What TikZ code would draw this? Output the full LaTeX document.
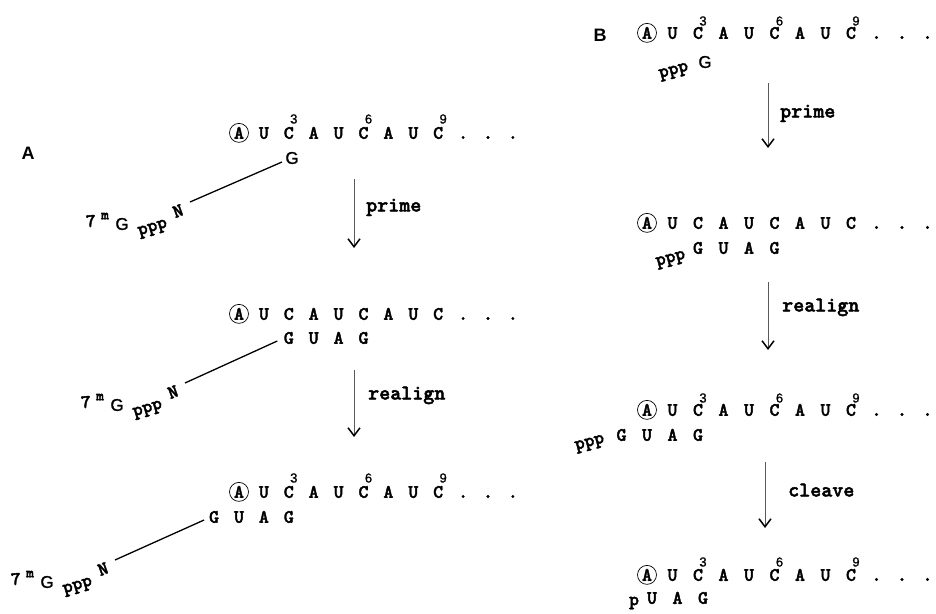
\documentclass[tikz,border=0pt]{standalone}
\usepackage{fontspec}
\newfontfamily\sansf{Liberation Sans}
\newfontfamily\monof{lmmonolt10-bold}[Extension=.otf, FakeBold=2]
\newfontfamily\gsans{Liberation Sans}[FakeBold=1.2]
\usetikzlibrary{arrows.meta}
% row of the template: name, x0, y centre, spacing
\newcommand\seqrow[4]{%
  \foreach \ch [count=\i from 0] in {A,U,C,A,U,C,A,U,C}{%
    \node[seq] (#1-\i) at ({#2+#4*\i},{#3+5.8}) {\ch};}
  \foreach \i in {9,10,11}{%
    \node[seq] (#1-\i) at ({#2+#4*\i},{#3+5.8}) {.};}
  \node[ring] (#1-r) at (#1-0.center) {};
}
% position numbers: name, x0, y, spacing
\newcommand\seqnums[4]{%
  \node[numlab] (#1-n3) at ({#2+#4*2+5},{#3}) {3};
  \node[numlab] (#1-n6) at ({#2+#4*5+5},{#3}) {6};
  \node[numlab] (#1-n9) at ({#2+#4*8+5},{#3}) {9};
}
% primer letters: name, x0, y centre, spacing, list
\newcommand\primer[5]{%
  \foreach \ch [count=\i from 0] in {#5}{%
    \node[seq] (#1-\i) at ({#2+#4*\i},{#3+5.8}) {\ch};}
}
% cap group 7mG pppN: name, Lx, Ly (line end)
\newcommand\capgrp[3]{%
  \node[capf, rotate=5] (#1-7) at ({#2-99},{#3+19}) {7};
  \node[smallm] (#1-m) at ({#2-85},{#3+14}) {m};
  \node[loneg] (#1-G) at ({#2-68},{#3+22}) {G};
  \node[tri, rotate=17] (#1-p) at ({#2-37},{#3+27}) {ppp};
  \node[tri, rotate=20] (#1-N) at ({#2-12},{#3+9}) {N};
}
\begin{document}
\begin{tikzpicture}[x=1pt,y=-1pt,
  seq/.style={font=\monof\fontsize{19}{23}\selectfont, inner sep=0pt, anchor=base},
  numlab/.style={font=\gsans\fontsize{13}{15}\selectfont, inner sep=0pt},
  loneg/.style={font=\gsans\fontsize{17}{19}\selectfont, inner sep=0pt},
  capf/.style={font=\monof\fontsize{19}{21}\selectfont, inner sep=0pt},
  smallm/.style={font=\monof\fontsize{15}{17}\selectfont, inner sep=0pt},
  tri/.style={font=\monof\fontsize{19}{21}\selectfont, inner sep=0pt},
  ring/.style={draw, circle, line width=0.7pt, minimum size=19pt, inner sep=0pt},
  link/.style={line width=1.3pt},
  stepar/.style={draw=black!65, line width=0.8pt, -{Straight Barb[length=8pt,width=12pt,line width=1.5pt,color=black]}},
  steplab/.style={font=\monof\fontsize{21}{24}\selectfont, inner sep=0pt, anchor=base west},
  panel/.style={font=\sansf\bfseries\fontsize{18}{20}\selectfont, inner sep=0pt}
]
\useasboundingbox (0,0) rectangle (936,613);

% ---------------- Panel A ----------------
\node[panel] (labA) at (28,153) {A};

% step 1
\seqrow{a1}{239}{133}{24.9}
\seqnums{a1}{239}{119}{24.9}
\node[loneg] (a1g) at (292,158) {G};
\capgrp{a1c}{190}{202}
\draw[link] ([xshift=-10pt,yshift=-4pt]a1g.center) -- ([xshift=12pt,yshift=9pt]a1c-N.center);

\coordinate (a1s) at (354,179);
\coordinate (a1e) at (354,248);
\draw[stepar] (a1s) -- (a1e);
\node[steplab] (a1lab) at (366,211.5) {prime};

% step 2
\seqrow{a2}{239}{314}{24.9}
\primer{a2p}{288.8}{338}{24.9}{G,U,A,G}
\capgrp{a2c}{185}{383}
\draw[link] ([xshift=-11.5pt,yshift=-3pt]a2p-0.center) -- ([xshift=12pt,yshift=9pt]a2c-N.center);

\coordinate (a2s) at (354,370);
\coordinate (a2e) at (354,437);
\draw[stepar] (a2s) -- (a2e);
\node[steplab] (a2lab) at (368,399.5) {realign};

% step 3
\seqrow{a3}{239}{492}{24.9}
\seqnums{a3}{239}{478}{24.9}
\primer{a3p}{214.1}{517}{24.9}{G,U,A,G}
\capgrp{a3c}{115}{560}
\draw[link] ([xshift=-10pt,yshift=-3pt]a3p-0.center) -- ([xshift=12pt,yshift=9pt]a3c-N.center);

% ---------------- Panel B ----------------
\node[panel] (labB) at (600,35) {B};

% step 1
\seqrow{b1}{647}{33}{25.5}
\seqnums{b1}{647}{21}{25.5}
\node[loneg] (b1g) at (705,62) {G};
\node[tri, rotate=15] (b1p) at (674,72) {ppp};

\coordinate (b1s) at (768,83);
\coordinate (b1e) at (768,148);
\draw[stepar] (b1s) -- (b1e);
\node[steplab] (b1lab) at (780,117.5) {prime};

% step 2
\seqrow{b2}{647}{223}{25.5}
\primer{b2q}{698}{248}{25.5}{G,U,A,G}
\node[tri, rotate=15] (b2p) at (671,260) {ppp};

\coordinate (b2s) at (768,282);
\coordinate (b2e) at (768,350);
\draw[stepar] (b2s) -- (b2e);
\node[steplab] (b2lab) at (782,311.5) {realign};

% step 3
\seqrow{b3}{647}{410}{25.5}
\seqnums{b3}{647}{398}{25.5}
\primer{b3q}{621.5}{435}{25.5}{G,U,A,G}
\node[tri, rotate=15] (b3p) at (590,444) {ppp};

\coordinate (b3s) at (765,462);
\coordinate (b3e) at (765,528);
\draw[stepar] (b3s) -- (b3e);
\node[steplab] (b3lab) at (788,496.5) {cleave};

% step 4
\seqrow{b4}{647}{575}{25.5}
\seqnums{b4}{647}{562}{25.5}
\primer{b4q}{652}{598}{25.5}{U,A,G}
\node[tri] (b4p) at (634,603) {p};
\end{tikzpicture}
\end{document}
